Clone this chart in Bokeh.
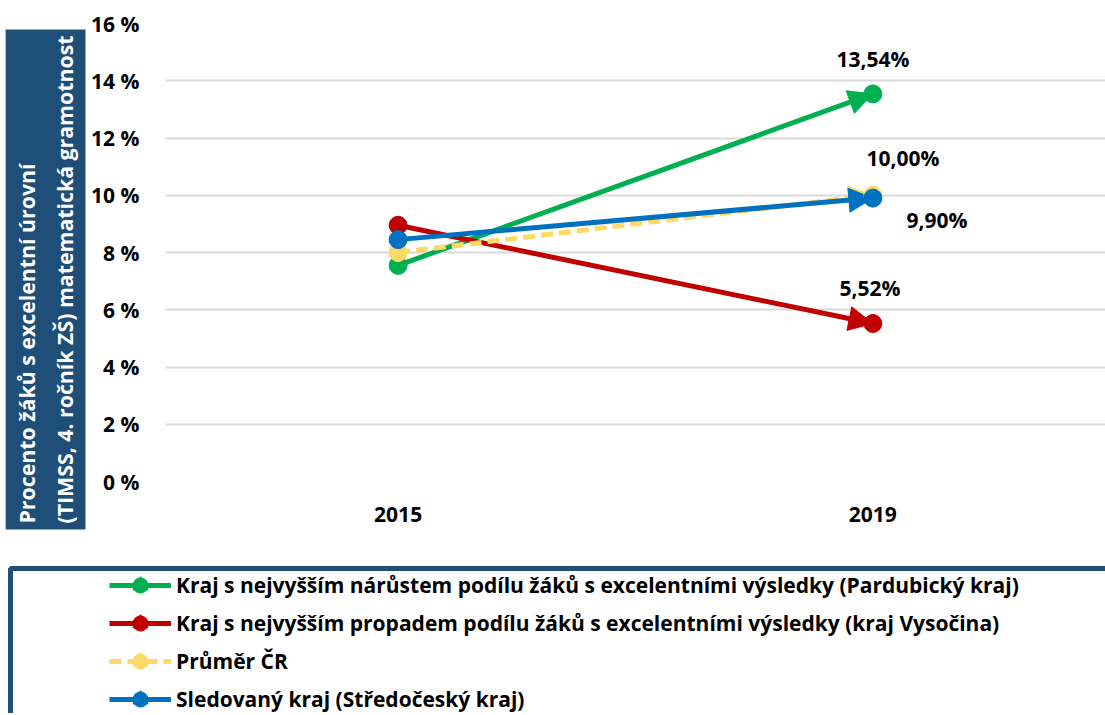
import math
from bokeh.plotting import figure
from bokeh.models import (ColumnDataSource, FactorRange, Range1d, Arrow, NormalHead,
                          Legend, LegendItem, BoxAnnotation, PrintfTickFormatter, FixedTicker)
from bokeh.core.properties import value
from bokeh.embed import file_html
from bokeh.resources import INLINE

# ---------------- data ----------------
years = ["2015", "2019"]
series_names = [
    "Kraj s nejvyšším nárůstem podílu žáků s excelentními výsledky (Pardubický kraj)",
    "Kraj s nejvyšším propadem podílu žáků s excelentními výsledky (kraj Vysočina)",
    "Průměr ČR",
    "Sledovaný kraj (Středočeský kraj)",
]
pardubicky = [7.55, 13.54]
vysocina = [8.95, 5.52]
prumer_cr = [8.00, 10.00]
stredocesky = [8.45, 9.90]
y_ticks = [0, 2, 4, 6, 8, 10, 12, 14, 16]
y_title_lines = ["Procento žáků s excelentní úrovní",
                 "(TIMSS, 4. ročník ZŠ) matematická gramotnost"]

series = [pardubicky, vysocina, prumer_cr, stredocesky]

# ---------------- styles ----------------
FONT = "Open Sans"
colors = ["#00B050", "#C00000", "#FFD966", "#0070C0"]
dashes = ["solid", "solid", "12 6", "solid"]
label_offsets = [(0, -35), (-3, -35), (30, -37), (64, 22)]
BOX_BLUE = "#1F4E79"

p = figure(x_range=FactorRange(factors=years, range_padding=-0.01, range_padding_units="absolute"),
           y_range=Range1d(0, 16),
           width=1105, height=565, output_backend="svg", toolbar_location=None,
           min_border_left=155, min_border_right=0, min_border_top=23, min_border_bottom=84,
           title_location="left")
p.outline_line_color = None
p.xgrid.grid_line_color = None
p.ygrid.grid_line_color = "#d9d9d9"
p.ygrid.grid_line_width = 2
p.yaxis.ticker = FixedTicker(ticks=y_ticks)
p.yaxis.formatter = PrintfTickFormatter(format="%d %%")
for ax in (p.xaxis, p.yaxis):
    ax.axis_line_color = None
    ax.major_tick_line_color = None
    ax.minor_tick_line_color = None
    ax.major_label_text_font = FONT
    ax.major_label_text_font_style = "bold"
    ax.major_label_text_font_size = "21px"
    ax.major_label_text_color = "black"
p.yaxis.major_label_standoff = 20
p.xaxis.major_label_standoff = 19

# y title as a boxed, rotated title on the left
p.title.text = "\n".join(y_title_lines)
p.title.align = "left"
p.title.offset = -48
p.title.standoff = 6
p.title.text_font = FONT
p.title.text_font_style = "bold"
p.title.text_font_size = "21.3px"
p.title.text_color = "white"
p.title.text_line_height = 1.34
p.title.background_fill_color = BOX_BLUE
try:
    p.title.padding = 6
except Exception:
    pass

for vals, c, d in zip(series, colors, dashes):
    src = ColumnDataSource(dict(x0=[years[0]], y0=[vals[0]], x1=[years[1]], y1=[vals[1]]))
    arr = Arrow(source=src, x_start="x0", y_start="y0", x_end="x1", y_end="y1",
                line_color=c, line_width=5, line_dash=d,
                end=NormalHead(size=24, fill_color=c, line_color=c, line_width=1),
                level="underlay")
    p.add_layout(arr)

for vals, c in zip(series, colors):
    p.scatter(x=years, y=vals, size=18, color=c, marker="circle")

lab_src = ColumnDataSource(dict(
    x=[years[1]] * len(series),
    y=[s[1] for s in series],
    text=[f"{s[1]:.2f}%".replace(".", ",") for s in series],
    xo=[o[0] for o in label_offsets],
    yo=[o[1] for o in label_offsets],
))
p.text(x="x", y="y", text="text", x_offset="xo", y_offset="yo", source=lab_src,
       text_font=value(FONT), text_font_style="bold", text_font_size="21px",
       text_color="black", text_align="center", text_baseline="middle")

# ---------------- legend figure ----------------
p2 = figure(x_range=FactorRange(factors=years), y_range=Range1d(100, 101),
            width=1105, height=148, output_backend="svg", toolbar_location=None,
            min_border=0, x_axis_location=None, y_axis_location=None)
p2.outline_line_color = None
p2.grid.grid_line_color = None
items = []
for name, vals, c, d in zip(series_names, series, colors, dashes):
    rl = p2.line(x=years, y=vals, line_color=c, line_width=5, line_dash=d)
    rc = p2.scatter(x=years, y=vals, size=16, color=c, marker="circle")
    rt = p2.scatter(x=years, y=vals, size=30, color=c, marker="triangle", angle=-math.pi / 2)
    items.append(LegendItem(label=name, renderers=[rl, rc, rt]))
leg = Legend(items=items, location=(109, -5), padding=0, spacing=0, margin=0,
             label_height=38, glyph_height=38, glyph_width=62, label_standoff=5,
             label_text_font=FONT, label_text_font_style="bold", label_text_font_size="21px",
             label_text_color="black", border_line_color=None, background_fill_alpha=0)
p2.add_layout(leg)
box = BoxAnnotation(left=10, right=3000, top=145, bottom=-50,
                    left_units="screen", right_units="screen",
                    top_units="screen", bottom_units="screen",
                    fill_alpha=0, line_color=BOX_BLUE, line_alpha=1, line_width=5)
p2.add_layout(box)

open("out.html", "w").write(file_html([p, p2], INLINE))
